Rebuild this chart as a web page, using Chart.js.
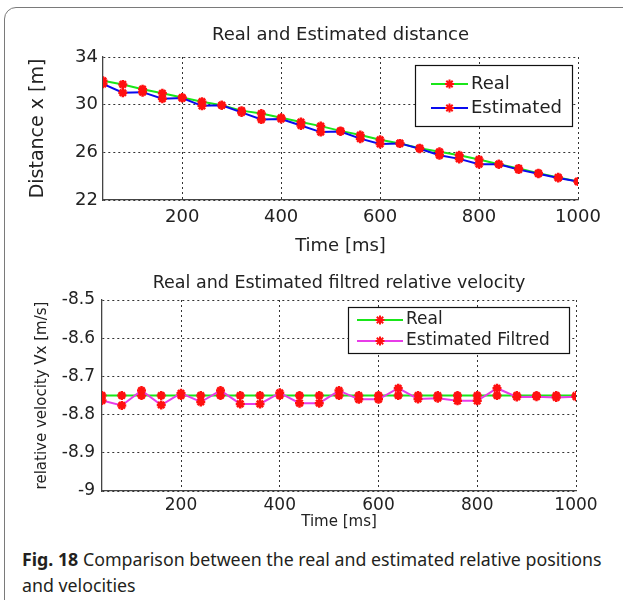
<!DOCTYPE html>
<html><head><meta charset="utf-8">
<script src="https://cdn.jsdelivr.net/npm/chart.js@4.4.1/dist/chart.umd.min.js"></script>
<style>
html,body{margin:0;padding:0;background:#fff;width:623px;height:600px;overflow:hidden;}
#frame{position:absolute;left:4px;top:7px;width:680px;height:680px;border:1.5px solid #7a7a7a;border-radius:12px;box-sizing:border-box;}
#c1{position:absolute;left:0;top:0;}
#c2{position:absolute;left:0;top:260px;}
#cap{position:absolute;left:22px;top:546px;font-family:"Noto Sans",sans-serif;font-size:17.8px;line-height:26px;color:#231f20;white-space:nowrap;}
#cap b{font-weight:700;}
</style></head><body>
<div id="frame"></div>
<canvas id="c1" width="623" height="260"></canvas>
<canvas id="c2" width="623" height="275"></canvas>
<div id="cap"><b>Fig. 18</b> Comparison between the real and estimated relative positions<br>and velocities</div>
<script>
// ---- data ----
const times = [40, 80, 120, 160, 200, 240, 280, 320, 360, 400, 440, 480, 520, 560, 600, 640, 680, 720, 760, 800, 840, 880, 920, 960, 1000];
const realDistance = [32.0, 31.7, 31.3, 30.95, 30.6, 30.25, 29.95, 29.5, 29.25, 28.9, 28.55, 28.2, 27.8, 27.45, 27.05, 26.75, 26.35, 26.05, 25.75, 25.4, 25.0, 24.65, 24.25, 23.9, 23.55];
const estDistance = [31.75, 31.0, 31.05, 30.5, 30.55, 29.9, 29.95, 29.35, 28.75, 28.8, 28.25, 27.7, 27.75, 27.15, 26.7, 26.75, 26.3, 25.75, 25.45, 25.0, 25.0, 24.55, 24.2, 23.85, 23.55];
const realVelocity = [-8.75, -8.75, -8.75, -8.75, -8.75, -8.75, -8.75, -8.75, -8.75, -8.75, -8.75, -8.75, -8.75, -8.75, -8.75, -8.75, -8.75, -8.75, -8.75, -8.75, -8.75, -8.75, -8.75, -8.75, -8.75];
const estVelocity = [-8.763, -8.776, -8.737, -8.775, -8.744, -8.767, -8.737, -8.772, -8.772, -8.743, -8.770, -8.770, -8.737, -8.760, -8.760, -8.731, -8.759, -8.757, -8.764, -8.764, -8.731, -8.754, -8.753, -8.755, -8.753];
const xTicks = [200, 400, 600, 800, 1000];
const distTicks = [22, 26, 30, 34];
const velTicks = [-9, -8.9, -8.8, -8.7, -8.6, -8.5];
const distSeries = ['Real', 'Estimated'];
const velSeries = ['Real', 'Estimated Filtred'];

// ---- styles ----
const FONT = "'DejaVu Sans', sans-serif";
const TXT = '#222';
const RED = '#ff1010';
const GREEN = '#19e619';
const BLUE = '#0a0aee';
const MAGENTA = '#e83ce8';

function pts(ys){ return times.map((t,i)=>({x:t, y:ys[i]})); }
function ds(label, ys, color, order){
  return {label, data: pts(ys), borderColor: color, borderWidth: 2, tension: 0, order,
    pointStyle: 'star', pointRadius: 4.5, pointBorderWidth: 2.5, pointBorderColor: RED, pointBackgroundColor: RED};
}
function titlePlugin(text, y, size){
  return {id:'ttl', afterDraw(chart){
    const {ctx, chartArea} = chart;
    ctx.save(); ctx.font = size + 'px ' + FONT; ctx.fillStyle = TXT;
    ctx.textAlign = 'center'; ctx.textBaseline = 'middle';
    ctx.fillText(text, (chartArea.left + chartArea.right)/2, y);
    ctx.restore();
  }};
}
function legendPlugin(box, lineX, textX, rows, size){
  return {id:'lgd', afterDraw(chart){
    const ctx = chart.ctx;
    ctx.save();
    ctx.fillStyle = '#fff'; ctx.fillRect(box[0], box[1], box[2]-box[0], box[3]-box[1]);
    ctx.strokeStyle = '#111'; ctx.lineWidth = 1.2;
    ctx.strokeRect(box[0]+0.5, box[1]+0.5, box[2]-box[0], box[3]-box[1]);
    chart.data.datasets.forEach((d, i) => {
      const y = rows[i];
      ctx.strokeStyle = d.borderColor; ctx.lineWidth = 2;
      ctx.beginPath(); ctx.moveTo(lineX[0], y); ctx.lineTo(lineX[1], y); ctx.stroke();
      ctx.strokeStyle = RED; ctx.fillStyle = RED;
      Chart.helpers.drawPoint(ctx, {pointStyle:'star', radius:4.5, borderWidth:2.5, rotation:0}, (lineX[0]+lineX[1])/2, y);
      ctx.fillStyle = TXT; ctx.font = size + 'px ' + FONT; ctx.textAlign = 'left'; ctx.textBaseline = 'middle';
      ctx.fillText(d.label, textX, y);
    });
    ctx.restore();
  }};
}
function xScale(fontSize, pad, titleSize, titlePad, h){
  return {type:'linear', min: times[0], max: times[times.length-1],
    afterBuildTicks: s => { s.ticks = xTicks.map(v => ({value: v})); },
    grid:{color:'#333', lineWidth:1, drawTicks:false},
    border:{display:true, color:'#444', width:1.3, dash:[2,3]},
    ticks:{font:{family:FONT, size:fontSize}, color:TXT, padding:pad, maxRotation:0, autoSkip:false, callback: v => String(v)},
    title:{display:true, text:'Time [ms]', font:{family:FONT, size:titleSize}, color:TXT, padding:{top:0, bottom:titlePad}},
    afterFit: s => { s.height = h; }
  };
}
function yScale(min, max, ticks, fontSize, pad, title, titleSize, titlePad, w){
  return {type:'linear', min, max,
    afterBuildTicks: s => { s.ticks = ticks.map(v => ({value: v})); },
    grid:{color:'#333', lineWidth:1, drawTicks:false},
    border:{display:true, color:'#444', width:1.3, dash:[2,3]},
    ticks:{font:{family:FONT, size:fontSize}, color:TXT, padding:pad, autoSkip:false, callback: v => String(v)},
    title:{display:true, text:title, font:{family:FONT, size:titleSize}, color:TXT, padding:{top:titlePad, bottom:0}},
    afterFit: s => { s.width = w; }
  };
}
const common = {responsive:false, animation:false, devicePixelRatio:1,
  plugins:{legend:{display:false}, tooltip:{enabled:false}}};

new Chart(document.getElementById('c1'), {
  type:'line',
  data:{datasets:[ds(distSeries[0], realDistance, GREEN, 2), ds(distSeries[1], estDistance, BLUE, 1)]},
  options:Object.assign({}, common, {
    layout:{padding:{top:57, left:0, right:45, bottom:0}},
    scales:{
      x: xScale(18, 7, 18, 3, 60),
      y: yScale(22, 34, distTicks, 18, 5, 'Distance x [m]', 19, 27, 103)
    }
  }),
  plugins:[titlePlugin('Real and Estimated distance', 35, 18),
           legendPlugin([415, 65, 572, 126], [431, 468], 471, [84, 108], 18)]
});

new Chart(document.getElementById('c2'), {
  type:'line',
  data:{datasets:[ds(velSeries[0], realVelocity, GREEN, 2), ds(velSeries[1], estVelocity, MAGENTA, 1)]},
  options:Object.assign({}, common, {
    layout:{padding:{top:40, left:0, right:47, bottom:0}},
    scales:{
      x: xScale(17, 4, 15, 4, 44),
      y: yScale(-9, -8.5, velTicks, 17, 7, 'relative velocity Vx [m/s]', 15, 33, 102)
    }
  }),
  plugins:[titlePlugin('Real and Estimated filtred relative velocity', 23, 17.5),
           legendPlugin([348, 47, 569, 93], [357, 403], 406, [60, 81], 17)]
});
</script>
</body></html>
